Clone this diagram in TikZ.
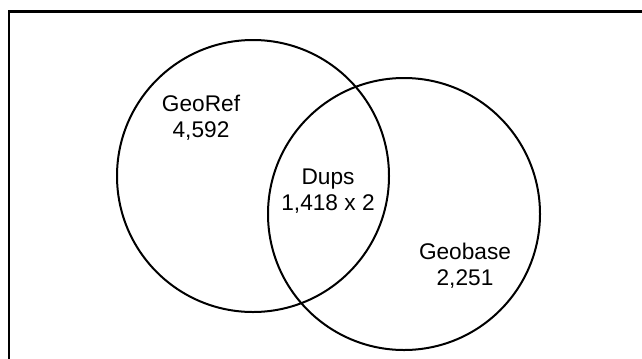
\documentclass[tikz,border=0pt]{standalone}
\usepackage{fontspec}
\setmainfont{Liberation Sans}
\begin{document}
\begin{tikzpicture}[x=0.75pt,y=-0.75pt,
  setcircle/.style={draw=black,line width=1.5pt,circle,minimum size=204pt,inner sep=0pt},
  setlabel/.style={align=center,font=\fontsize{17}{19.5}\selectfont,inner sep=0pt}]
\useasboundingbox (0,0) rectangle (642,358);
\clip (0,0) rectangle (642,358);
\draw[line width=1.7pt] (9,11.5) rectangle (700,420);
\node[setcircle] (georef) at (253,176) {};
\node[setcircle] (geobase) at (404,214) {};
\node[setlabel] (l1) at (201,118) {GeoRef\\4,592};
\node[setlabel] (l2) at (328,191.5) {Dups\\1,418 x 2};
\node[setlabel] (l3) at (465,266) {Geobase\\2,251};
\end{tikzpicture}
\end{document}
